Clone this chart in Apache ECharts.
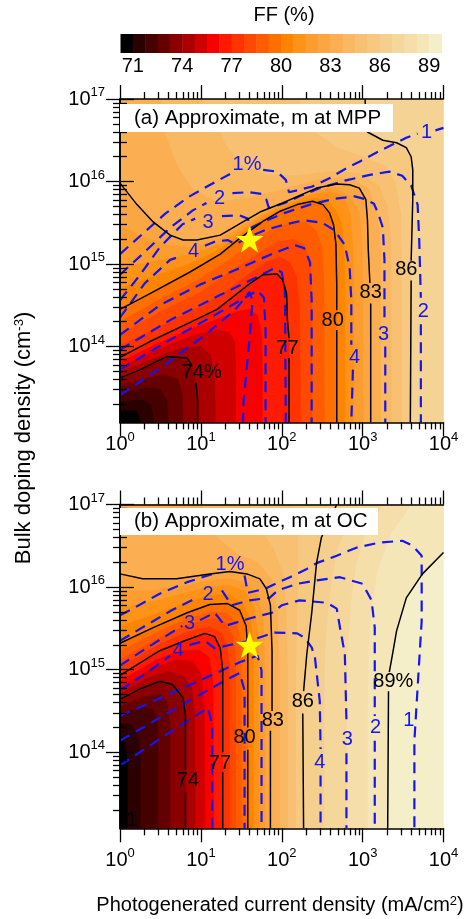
<!DOCTYPE html>
<html>
<head>
<meta charset="utf-8">
<title>Fill factor maps</title>
<script src="https://cdn.jsdelivr.net/npm/echarts@6/dist/echarts.min.js"></script>
<style>
html,body{margin:0;padding:0;background:#fff;}
#chart{width:464px;height:919px;}
</style>
</head>
<body>
<div id="chart"></div>
<script>
// ---------- fill-factor colour scale (FF, %) ----------
const ffEdges = [70.25,71,71.75,72.5,73.25,74,74.75,75.5,76.25,77,77.75,78.5,79.25,80,80.75,81.5,82.25,83,83.75,84.5,85.25,86,86.75,87.5,88.25,89,89.75];
const ffColors = ['#000000','#2a0000','#460000','#640000','#8a0000','#aa0000','#d00000','#f80000','#ff1a00','#ff3300','#ff4800','#ff5c00','#ff7000','#ff8500','#ff9318','#fd9d30','#fca642','#fbaf52','#f9b862','#f8c072','#f6c880','#f5cf8e','#f5d69b','#f5dea9','#f5e6b8','#f5efc9'];
const ffTicks = [71,74,77,80,83,86,89];

// ---------- axes: log10 J (mA/cm2) and log10 N (cm^-3) ----------
const logJRange = [0, 4];
const logNRange = [13.08, 17];
const decadesJ = [0,1,2,3,4];
const decadesN = [14,15,16,17];

// ---------- FF iso-lines, points are [log10 J, log10 N]; null = gap under a label ----------
// (a) m at MPP — labelled lines
const ffA74 = [[0,13.62],[0.25,13.72],[0.58,13.88],[0.83,13.86],[0.89,13.77],null,[0.94,13.56],[0.96,13.35],[0.96,13.08]];
const ffA77 = [[0,13.87],[0.37,14.06],[0.86,14.29],[1.2,14.45],[1.42,14.62],[1.6,14.76],[1.77,14.87],[1.94,14.88],[2.01,14.81],[2.06,14.64],[2.07,14.32],[2.09,14.1],null,[2.09,13.86],[2.09,13.08]];
const ffA80 = [[0,14.45],[0.37,14.64],[0.86,14.9],[1.24,15.12],[1.48,15.31],[1.77,15.52],[1.98,15.64],[2.19,15.72],[2.38,15.76],[2.51,15.72],[2.59,15.62],[2.64,15.48],[2.67,15.24],[2.68,14.76],[2.68,14.44],null,[2.68,14.2],[2.68,13.08]];
const ffA83 = [[0,15.98],[0.21,15.72],[0.41,15.51],[0.62,15.35],[0.78,15.29],[0.95,15.29],[1.24,15.35],[1.52,15.51],[1.73,15.63],[2.01,15.74],[2.43,15.92],[2.68,15.97],[2.84,15.96],[2.96,15.92],[3.04,15.78],[3.06,15.53],[3.07,15.17],[3.09,14.77],null,[3.1,14.52],[3.1,13.08]];
const ffA86 = [[3.03,17],[3.04,16.81],[3.06,16.6],[3.25,16.5],[3.42,16.47],[3.54,16.41],[3.6,16.3],[3.62,16.14],[3.62,15.78],[3.6,15.04],null,[3.6,14.8],[3.59,13.08]];
// (a) unlabelled band edges, every 0.75 %
const ffA71    = [[0,13.22],[0.2,13.22],[0.26,13.08]];
const ffA71_75 = [[0,13.32],[0.25,13.36],[0.38,13.3],[0.42,13.08]];
const ffA72_5  = [[0,13.42],[0.3,13.5],[0.5,13.48],[0.58,13.35],[0.6,13.08]];
const ffA73_25 = [[0,13.52],[0.3,13.61],[0.55,13.66],[0.72,13.6],[0.77,13.42],[0.78,13.08]];
const ffA74_75 = [[0,13.69],[0.4,13.85],[0.75,13.98],[1.0,14.0],[1.12,13.9],[1.17,13.6],[1.18,13.08]];
const ffA75_5  = [[0,13.75],[0.5,13.98],[0.9,14.13],[1.2,14.2],[1.35,14.17],[1.42,14.05],[1.43,13.7],[1.43,13.08]];
const ffA76_25 = [[0,13.81],[0.45,14.03],[0.9,14.22],[1.2,14.33],[1.45,14.42],[1.6,14.45],[1.7,14.38],[1.75,14.15],[1.76,13.7],[1.76,13.08]];
const ffA77_75 = [[0,14.01],[0.45,14.22],[0.95,14.46],[1.3,14.66],[1.55,14.85],[1.8,15.02],[1.98,15.08],[2.1,15.02],[2.18,14.85],[2.22,14.5],[2.23,13.08]];
const ffA78_5  = [[0,14.15],[0.5,14.42],[1.0,14.66],[1.4,14.93],[1.7,15.12],[1.95,15.27],[2.15,15.3],[2.28,15.22],[2.35,15.0],[2.37,14.6],[2.37,13.08]];
const ffA79_25 = [[0,14.3],[0.45,14.55],[0.95,14.8],[1.35,15.05],[1.65,15.28],[1.9,15.43],[2.1,15.5],[2.3,15.5],[2.43,15.4],[2.5,15.2],[2.52,14.8],[2.53,13.08]];
const ffA80_75 = [[0,14.7],[0.45,14.86],[0.88,15.01],[1.24,15.18],[1.49,15.36],[1.77,15.55],[2.0,15.67],[2.2,15.75],[2.4,15.8],[2.55,15.78],[2.66,15.66],[2.74,15.5],[2.77,15.2],[2.78,14.7],[2.78,13.08]];
const ffA81_5  = [[0,14.95],[0.5,15.05],[0.9,15.12],[1.24,15.24],[1.5,15.41],[1.77,15.585],[2.0,15.7],[2.2,15.78],[2.4,15.85],[2.6,15.88],[2.76,15.82],[2.85,15.6],[2.88,15.2],[2.89,14.5],[2.89,13.08]];
const ffA82_25 = [[0,15.46],[0.3,15.32],[0.6,15.23],[0.9,15.2],[1.24,15.3],[1.51,15.46],[1.77,15.61],[2.0,15.72],[2.4,15.88],[2.65,15.92],[2.85,15.82],[2.96,15.62],[2.99,15.3],[3.0,14.6],[3.0,13.08]];
const ffA83_75 = [[0.5,17],[0.55,16.6],[0.7,16.2],[0.9,15.9],[1.2,15.75],[1.6,15.8],[2.0,15.9],[2.5,16.03],[2.85,16.04],[3.08,15.9],[3.18,15.6],[3.22,15.2],[3.22,13.08]];
const ffA84_5  = [[1.0,17],[1.15,16.8],[1.3,16.45],[1.5,16.2],[1.8,16.08],[2.2,16.07],[2.6,16.12],[2.95,16.1],[3.2,15.95],[3.3,15.7],[3.35,15.3],[3.35,13.08]];
const ffA85_25 = [[2.2,17],[2.4,16.6],[2.7,16.4],[3.0,16.3],[3.25,16.2],[3.4,16.0],[3.47,15.6],[3.48,15.0],[3.48,13.08]];

// (b) m at OC — labelled lines
const ffB74 = [[0,14.64],[0.25,14.77],[0.49,14.86],[0.65,14.82],[0.78,14.66],[0.81,14.44],[0.81,13.79],null,[0.81,13.52],[0.81,13.08]];
const ffB77 = [[0,14.93],[0.49,15.23],[0.8,15.35],[1.05,15.44],[1.17,15.4],[1.24,15.26],[1.27,14.99],[1.27,14.0],null,[1.27,13.76],[1.27,13.08]];
const ffB80 = [[0,15.32],[0.41,15.51],[0.83,15.69],[1.11,15.79],[1.33,15.8],[1.48,15.72],[1.56,15.53],[1.58,15.23],[1.58,14.3],null,[1.58,14.03],[1.58,13.08]];
const ffB83 = [[0,16.16],[0.28,16.1],[0.7,16.1],[1.11,16.16],[1.36,16.19],[1.57,16.16],[1.73,16.1],[1.81,15.98],[1.86,15.78],[1.88,15.23],[1.88,14.5],null,[1.86,14.26],[1.86,13.08]];
const ffB86 = [[2.68,17],[2.59,16.81],[2.49,16.6],[2.43,16.29],[2.37,15.68],[2.31,15.19],[2.27,14.74],null,[2.26,14.47],[2.27,13.08]];
const ffB89 = [[4,16.42],[3.74,16.16],[3.54,15.87],[3.42,15.47],[3.37,15.19],[3.33,14.97],null,[3.32,14.74],[3.31,13.08]];
// (b) unlabelled band edges, every 0.75 %
const ffB71    = [[0,14.2],[0.06,14.1],[0.09,13.9],[0.09,13.08]];
const ffB71_75 = [[0,14.35],[0.15,14.33],[0.23,14.2],[0.25,13.9],[0.25,13.08]];
const ffB72_5  = [[0,14.45],[0.25,14.55],[0.4,14.52],[0.46,14.4],[0.47,14.0],[0.47,13.08]];
const ffB73_25 = [[0,14.55],[0.3,14.67],[0.5,14.7],[0.58,14.6],[0.62,14.35],[0.62,13.08]];
const ffB74_75 = [[0,14.71],[0.35,14.9],[0.6,14.98],[0.78,14.92],[0.88,14.8],[0.92,14.55],[0.93,13.08]];
const ffB75_5  = [[0,14.78],[0.4,15.02],[0.7,15.12],[0.9,15.1],[1.0,14.95],[1.04,14.6],[1.05,13.08]];
const ffB76_25 = [[0,14.86],[0.45,15.12],[0.75,15.23],[0.98,15.24],[1.1,15.15],[1.15,14.85],[1.16,13.08]];
const ffB77_75 = [[0,15.03],[0.47,15.3],[0.82,15.45],[1.1,15.52],[1.25,15.45],[1.32,15.3],[1.35,15.05],[1.35,13.08]];
const ffB78_5  = [[0,15.12],[0.45,15.37],[0.85,15.55],[1.15,15.62],[1.3,15.57],[1.4,15.4],[1.43,15.1],[1.43,13.08]];
const ffB79_25 = [[0,15.22],[0.43,15.44],[0.84,15.62],[1.13,15.7],[1.32,15.69],[1.44,15.55],[1.5,15.32],[1.505,13.08]];
const ffB80_75 = [[0,15.53],[0.4,15.66],[0.8,15.8],[1.1,15.9],[1.34,15.91],[1.52,15.8],[1.61,15.62],[1.65,15.3],[1.65,13.08]];
const ffB81_5  = [[0,15.75],[0.4,15.82],[0.8,15.93],[1.1,16.0],[1.35,16.02],[1.55,15.95],[1.66,15.75],[1.71,15.4],[1.72,14.5],[1.72,13.08]];
const ffB82_25 = [[0,15.95],[0.4,15.96],[0.75,16.01],[1.1,16.08],[1.36,16.1],[1.56,16.05],[1.7,15.9],[1.77,15.6],[1.79,15.0],[1.795,13.08]];
const ffB83_75 = [[1.0,17],[1.2,16.6],[1.45,16.4],[1.7,16.3],[1.87,16.1],[1.94,15.7],[1.97,15.0],[1.97,13.08]];
const ffB84_5  = [[1.6,17],[1.75,16.7],[1.9,16.45],[2.0,16.2],[2.05,15.8],[2.07,15.0],[2.07,13.08]];
const ffB85_25 = [[2.15,17],[2.2,16.7],[2.2,16.3],[2.19,15.8],[2.17,15.0],[2.17,13.08]];
const ffB86_75 = [[2.95,17],[2.8,16.75],[2.68,16.45],[2.6,16.0],[2.54,15.4],[2.52,14.7],[2.52,13.08]];
const ffB87_5  = [[3.25,17],[3.05,16.7],[2.92,16.3],[2.85,15.8],[2.81,15.2],[2.8,14.5],[2.8,13.08]];
const ffB88_25 = [[3.6,17],[3.35,16.65],[3.18,16.2],[3.1,15.7],[3.07,15.1],[3.06,14.5],[3.06,13.08]];

// ---------- error iso-lines of the approximation (%), same point format ----------
const errA1 = [[0,15.12],[0.25,15.34],[0.56,15.61],[0.86,15.82],[1.17,15.99],[1.36,16.09],null,[1.77,16.14],[1.94,16.12],[2.05,16.02],[2.09,15.87],[2.22,15.9],[2.38,15.94],[2.59,16.04],[2.8,16.16],[2.96,16.24],[3.19,16.36],[3.54,16.53],[3.68,16.58],null,[3.9,16.62],[4,16.65]];
const errA2 = [[0,14.87],[0.31,15.15],[0.62,15.44],[0.9,15.65],[1.07,15.74],null,[1.39,15.86],[1.6,15.87],[1.75,15.85],[1.81,15.78],[1.84,15.68],[2.04,15.74],[2.22,15.82],[2.47,15.92],[2.78,16.01],[3.09,16.08],[3.33,16.12],[3.49,16.07],[3.6,15.95],[3.68,15.72],[3.7,15.29],[3.72,14.59],null,[3.72,14.27],[3.72,13.08]];
const errA3 = [[0,14.56],[0.25,14.87],[0.49,15.2],[0.77,15.48],[0.93,15.55],null,[1.26,15.58],[1.48,15.59],[1.58,15.55],[1.62,15.44],[1.79,15.52],[2.04,15.62],[2.35,15.72],[2.65,15.79],[2.9,15.82],[3.02,15.79],[3.14,15.73],[3.19,15.62],[3.25,15.44],[3.27,15.05],[3.27,14.3],null,[3.28,14.0],[3.28,13.08]];
const errA4 = [[0,14.35],[0.31,14.77],[0.62,15.05],[0.77,15.1],null,[1.05,15.22],[1.17,15.27],[1.33,15.29],[1.43,15.24],[1.6,15.33],[1.79,15.41],[2.04,15.48],[2.28,15.53],[2.5,15.5],[2.65,15.41],[2.78,15.23],[2.84,14.95],[2.86,14.56],[2.86,14.02],null,[2.88,13.72],[2.86,13.08]];
const errA5 = [[0,14.14],[0.49,14.5],[0.99,14.75],[1.48,14.95],[1.85,15.11],[2.16,15.23],[2.28,15.19],[2.35,15.02],[2.37,14.56],[2.37,13.08]];
const errA6 = [[0,13.96],[0.62,14.32],[1.23,14.62],[1.67,14.83],[1.91,14.95],[2.0,14.9],[2.04,14.68],[2.05,13.08]];
const errA7 = [[0,13.72],[0.62,14.08],[1.17,14.38],[1.54,14.59],[1.7,14.68],[1.78,14.59],[1.8,14.2],[1.8,13.08]];
const errA8 = [[0,13.41],[0.56,13.78],[1.05,14.14],[1.42,14.44],[1.6,14.66],[1.64,14.56],[1.6,14.08],[1.53,13.35],[1.52,13.08]];

const errB1 = [[0,15.66],[0.16,15.74],[0.49,15.92],[0.83,16.06],[1.15,16.16],null,[1.54,16.14],[1.58,15.93],[1.79,15.98],[2.1,16.12],[2.31,16.22],[2.43,16.29],[2.68,16.38],[2.93,16.48],[3.21,16.54],[3.49,16.56],[3.62,16.5],[3.73,16.38],[3.73,16.08],[3.73,15.59],[3.7,15.11],[3.67,14.62],[3.64,14.14],[3.64,13.08]];
const errB2 = [[0,15.35],[0.31,15.53],[0.64,15.72],[0.93,15.86],null,[1.26,15.96],[1.38,15.78],[1.6,15.84],[1.85,15.87],[1.95,15.96],[2.19,16.04],[2.43,16.08],[2.72,16.12],[3.0,16.04],[3.11,15.84],[3.15,15.51],[3.15,15.15],[3.15,14.44],null,[3.15,14.14],[3.15,13.08]];
const errB3 = [[0,15.05],[0.31,15.25],[0.62,15.44],[0.77,15.53],null,[0.99,15.6],[1.17,15.69],[1.3,15.53],[1.6,15.62],[1.88,15.69],[2.0,15.78],[2.22,15.84],[2.56,15.81],[2.68,15.74],[2.72,15.51],[2.78,15.19],[2.8,14.38],null,[2.8,13.99],[2.8,13.08]];
const errB4 = [[0,14.75],[0.37,14.99],[0.62,15.17],null,[0.86,15.3],[1.05,15.35],[1.17,15.26],[1.6,15.35],[1.91,15.45],[2.19,15.44],[2.28,15.39],[2.37,15.27],[2.41,15.15],[2.47,14.62],[2.48,14.04],null,[2.48,13.72],[2.48,13.08]];
const errB5 = [[0,14.44],[0.99,14.87],[1.48,15.09],[1.7,15.17],[1.75,14.99],[1.75,13.08]];
const errB6 = [[0,14.14],[0.74,14.56],[1.3,14.87],[1.48,14.96],[1.54,14.75],[1.54,13.08]];
const errB7 = [[0,13.84],[0.49,14.16],[0.93,14.44],[1.09,14.54],[1.14,14.32],[1.14,13.08]];

// operating point marked with a star: J = 40 mA/cm2, N = 2e15 cm^-3
const starJ = 40, starN = 2e15;

// ---------- helpers ----------
const FONT = '"Liberation Sans", Arial, Helvetica, sans-serif';
const BLUE = '#1515f0';
function hexRgb(h){ return [1,3,5].map(i => parseInt(h.substr(i,2),16)); }
// mean colour of the scale bands lying inside [a, b]
function bandColor(a, b){
  const sel = [];
  for (let i = 0; i < ffColors.length; i++) if (ffEdges[i] >= a - 1e-6 && ffEdges[i+1] <= b + 1e-6) sel.push(hexRgb(ffColors[i]));
  const m = [0,1,2].map(k => Math.round(sel.reduce((s, c) => s + c[k], 0) / sel.length));
  return 'rgb(' + m.join(',') + ')';
}
function solid(pts){ return pts.filter(p => p); }
function minorTicks(lo, hi){
  const out = [];
  for (let d = Math.floor(lo); d < hi; d++) for (let k = 2; k <= 9; k++) { const v = d + Math.log10(k); if (v >= lo && v <= hi) out.push(v); }
  return out;
}
const lo = logNRange[0], hi = logNRange[1];
const frame = [[0,hi],[4,hi],[4,lo],[0,lo]];
// region FF < level: close the iso-line through the plot corners on the low-FF (left/bottom) side
function lowSide(pts){
  const p = solid(pts), f = p[0];
  const head = f[1] >= hi - 1e-9 ? [[0,hi]] : (f[0] >= 4 - 1e-9 ? [[0,hi],[4,hi]] : []);
  return [...head, ...p, [0,lo]];
}
// ordered low to high: [level, iso-line]
function fillsFrom(levels, topRange){
  const out = [{r: topRange, pts: frame}];
  for (let i = levels.length - 1; i >= 0; i--) {
    const below = i > 0 ? levels[i-1][0] : ffEdges[0];
    out.push({r:[below, levels[i][0]], pts: lowSide(levels[i][1])});
  }
  return out;
}

const panels = [
  {
    grid: {left:120, top:99, width:323.5, height:323.4}, xMargin: 9,
    fills: fillsFrom([[71,ffA71],[71.75,ffA71_75],[72.5,ffA72_5],[73.25,ffA73_25],[74,ffA74],[74.75,ffA74_75],[75.5,ffA75_5],[76.25,ffA76_25],[77,ffA77],[77.75,ffA77_75],[78.5,ffA78_5],[79.25,ffA79_25],[80,ffA80],[80.75,ffA80_75],[81.5,ffA81_5],[82.25,ffA82_25],[83,ffA83],[83.75,ffA83_75],[84.5,ffA84_5],[85.25,ffA85_25],[86,ffA86]], [86,87.5]),
    ffLines: [ffA74, ffA77, ffA80, ffA83, ffA86],
    ffLabels: [{t:'74%', at:[1.01,13.69]},{t:'77', at:[2.07,13.98]},{t:'80', at:[2.63,14.32]},{t:'83', at:[3.1,14.65]},{t:'86', at:[3.54,14.93]}],
    errLines: [errA1, errA2, errA3, errA4, errA5, errA6, errA7, errA8],
    errLabels: [{t:'1%', at:[1.57,16.21]},{t:'1', at:[3.79,16.6]},{t:'2', at:[1.23,15.8]},{t:'2', at:[3.75,14.43]},{t:'3', at:[1.09,15.5]},{t:'3', at:[3.26,14.15]},{t:'4', at:[0.91,15.15]},{t:'4', at:[2.9,13.87]}],
    title: '(a) Approximate, m at MPP', box: {x:120, y:104, w:273, h:28}
  },
  {
    grid: {left:120, top:504.5, width:323.5, height:323.8}, xMargin: 19,
    fills: fillsFrom([[71,ffB71],[71.75,ffB71_75],[72.5,ffB72_5],[73.25,ffB73_25],[74,ffB74],[74.75,ffB74_75],[75.5,ffB75_5],[76.25,ffB76_25],[77,ffB77],[77.75,ffB77_75],[78.5,ffB78_5],[79.25,ffB79_25],[80,ffB80],[80.75,ffB80_75],[81.5,ffB81_5],[82.25,ffB82_25],[83,ffB83],[83.75,ffB83_75],[84.5,ffB84_5],[85.25,ffB85_25],[86,ffB86],[86.75,ffB86_75],[87.5,ffB87_5],[88.25,ffB88_25],[89,ffB89]], [89,89.75]),
    ffLines: [ffB74, ffB77, ffB80, ffB83, ffB86, ffB89],
    ffLabels: [{t:'74', at:[0.84,13.66]},{t:'77', at:[1.235,13.87]},{t:'80', at:[1.54,14.18]},{t:'83', at:[1.89,14.38]},{t:'86', at:[2.26,14.62]},{t:'89%', at:[3.38,14.86]},{t:'1', at:[0.15,13.17]}],
    errLines: [errB1, errB2, errB3, errB4, errB5, errB6, errB7],
    errLabels: [{t:'1%', at:[1.36,16.27]},{t:'1', at:[3.57,14.39]},{t:'2', at:[1.09,15.91]},{t:'2', at:[3.16,14.3]},{t:'3', at:[0.86,15.56]},{t:'3', at:[2.81,14.15]},{t:'4', at:[0.72,15.23]},{t:'4', at:[2.47,13.88]}],
    title: '(b) Approximate, m at OC', box: {x:120, y:508, w:258, h:27}
  }
];

const supRich = {
  b: {fontSize:20, fontFamily:FONT, color:'#000', lineHeight:26},
  s: {fontSize:13, fontFamily:FONT, color:'#000', lineHeight:12, verticalAlign:'top'}
};
const tickStyle = {color:'#000', width:1.3};
const frameLine = {show:true, lineStyle:{color:'#000', width:1.5}};

const grids = [], xAxes = [], yAxes = [], series = [], graphics = [];

panels.forEach((p, gi) => {
  grids.push(p.grid);
  const xi = xAxes.length, yi = yAxes.length;
  const xMinor = minorTicks(logJRange[0], logJRange[1]);
  const yMinor = minorTicks(lo, hi);
  const ax = (pos, major, minor, labels, margin, range, isX) => {
    const list = isX ? xAxes : yAxes;
    list.push({gridIndex:gi, type:'value', position:pos, min:range[0], max:range[1], z:10,
      axisLine:frameLine, splitLine:{show:false},
      axisTick:{show:true, length:14, lineStyle:tickStyle, customValues:major},
      axisLabel: labels ? {show:true, margin:margin, customValues:major, formatter: v => '{b|10}{s|' + Math.round(v) + '}', rich:supRich} : {show:false}});
    list.push({gridIndex:gi, type:'value', position:pos, min:range[0], max:range[1], z:10,
      axisLine:{show:false}, splitLine:{show:false},
      axisTick:{show:true, length:7, lineStyle:tickStyle, customValues:minor}, axisLabel:{show:false}});
  };
  ax('bottom', decadesJ, xMinor, true, p.xMargin, logJRange, true);
  ax('top', decadesJ, xMinor, false, 0, logJRange, true);
  ax('left', decadesN, yMinor, true, 15, logNRange, false);
  ax('right', decadesN, yMinor, false, 0, logNRange, false);

  // filled FF bands, drawn from the outermost region inwards
  series.push({type:'custom', xAxisIndex:xi, yAxisIndex:yi, clip:true, silent:true, z:1,
    data: p.fills.map((f, i) => [i]),
    renderItem: (params, api) => {
      const f = p.fills[params.dataIndex];
      const c = bandColor(f.r[0], f.r[1]);
      return {type:'polygon', shape:{points: f.pts.map(q => api.coord(q))}, style:{fill:c, stroke:c, lineWidth:0.6}};
    }});
  // error iso-lines
  p.errLines.forEach(l => series.push({type:'line', xAxisIndex:xi, yAxisIndex:yi, silent:true, z:3,
    data: l.map(q => q ? q : ['-','-']), showSymbol:false, symbol:'none', connectNulls:false,
    lineStyle:{color:BLUE, width:2.2, type:[11,7]}}));
  // FF iso-lines
  p.ffLines.forEach(l => series.push({type:'line', xAxisIndex:xi, yAxisIndex:yi, silent:true, z:4,
    data: l.map(q => q ? q : ['-','-']), showSymbol:false, symbol:'none', connectNulls:false,
    lineStyle:{color:'#000', width:1.5}}));
  // line labels
  const lab = (arr, color) => series.push({type:'scatter', xAxisIndex:xi, yAxisIndex:yi, silent:true, z:5, symbolSize:0,
    itemStyle:{opacity:1},
    data: arr.map(a => ({value:a.at, name:a.t})),
    label:{show:true, position:'inside', formatter:'{b}', color:color, opacity:1, fontSize:20, fontFamily:FONT}});
  lab(p.ffLabels, '#000');
  lab(p.errLabels, BLUE);
  // operating point
  series.push({type:'scatter', xAxisIndex:xi, yAxisIndex:yi, silent:true, z:7,
    symbol:'path://M50,0 L61.8,35.5 L99,35.5 L69,57.5 L80.5,93 L50,71 L19.5,93 L31,57.5 L1,35.5 L38.2,35.5 Z',
    symbolSize:[28,27], itemStyle:{color:'#ffff00', opacity:1},
    data:[[Math.log10(starJ), Math.log10(starN)]]});
  // panel caption box
  graphics.push({type:'rect', z:100, shape:{x:p.box.x, y:p.box.y, width:p.box.w, height:p.box.h}, style:{fill:'#fff'}});
  graphics.push({type:'text', z:101, x:p.box.x + 14, y:p.box.y + p.box.h / 2,
    style:{text:p.title, fontSize:20.5, fontFamily:FONT, fill:'#000', align:'left', verticalAlign:'middle'}});
});

// colour bar
const cbGrid = grids.length;
grids.push({left:120.5, top:34, width:321, height:19});
const cbX = xAxes.length, cbY = yAxes.length;
xAxes.push({gridIndex:cbGrid, type:'value', min:ffEdges[0], max:ffEdges[ffEdges.length-1], position:'bottom',
  axisLine:{show:false}, axisTick:{show:false}, splitLine:{show:false},
  axisLabel:{show:true, customValues:ffTicks, margin:3, fontSize:20, fontFamily:FONT, color:'#000', lineHeight:20}});
yAxes.push({gridIndex:cbGrid, type:'value', min:0, max:1, show:false});
series.push({type:'custom', xAxisIndex:cbX, yAxisIndex:cbY, silent:true, clip:true,
  data: ffColors.map((c, i) => [ffEdges[i], ffEdges[i+1]]),
  renderItem: (params, api) => {
    const a = api.coord([api.value(0), 1]), b = api.coord([api.value(1), 0]);
    const c = ffColors[params.dataIndex];
    return {type:'rect', shape:{x:a[0], y:a[1], width:b[0]-a[0] + 0.5, height:b[1]-a[1]}, style:{fill:c}};
  }});

const supTitle = {s:{fontSize:13, fontFamily:FONT, fill:'#000', verticalAlign:'top', lineHeight:12}};
graphics.push({type:'text', z:100, x:284, y:15, style:{text:'FF (%)', fontSize:20, fontFamily:FONT, fill:'#000', align:'center', verticalAlign:'middle'}});
graphics.push({type:'text', z:100, x:24, y:438, rotation:Math.PI/2,
  style:{text:'Bulk doping density (cm{s|-3})', fontSize:22, fontFamily:FONT, fill:'#000', align:'center', verticalAlign:'middle', rich:supTitle}});
graphics.push({type:'text', z:100, x:280, y:905,
  style:{text:'Photogenerated current density (mA/cm{s|2})', fontSize:20, fontFamily:FONT, fill:'#000', align:'center', verticalAlign:'middle', rich:supTitle}});

const chart = echarts.init(document.getElementById('chart'), null, {renderer:'canvas'});
chart.setOption({
  animation:false,
  backgroundColor:'#fff',
  grid:grids, xAxis:xAxes, yAxis:yAxes, series:series,
  graphic:{elements:graphics}
});
</script>
</body>
</html>
